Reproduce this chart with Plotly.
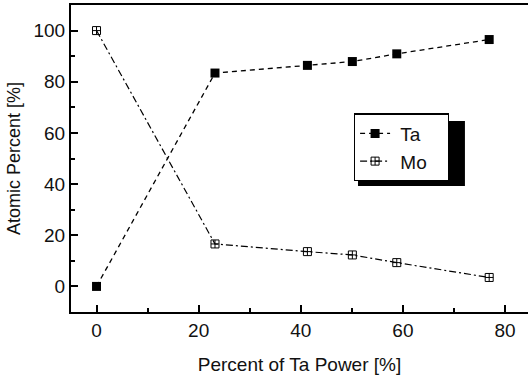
import plotly.graph_objects as go

ta_power = [0, 23.2, 41.3, 50.1, 58.8, 76.9]
ta_atomic = [0, 83.4, 86.4, 87.9, 90.9, 96.5]
mo_atomic = [100, 16.6, 13.6, 12.3, 9.3, 3.5]
series_names = ["Ta", "Mo"]

font = "Liberation Sans, Arial, sans-serif"
pad = "\u00a0"

fig = go.Figure()
fig.add_trace(go.Scatter(
    x=ta_power, y=ta_atomic, name=pad + series_names[0] + pad * 3, mode="lines+markers",
    line=dict(color="black", width=1.3, dash="5px,4px"),
    marker=dict(symbol="square", size=9, color="black"),
))
fig.add_trace(go.Scatter(
    x=ta_power, y=mo_atomic, name=pad + series_names[1] + pad * 3, mode="lines+markers",
    line=dict(color="black", width=1.2, dash="7px,3px,2px,3px"),
    marker=dict(symbol="square-cross-open", size=8,
                color="black", line=dict(width=1)),
))

axis_common = dict(
    showgrid=False, zeroline=False, showline=True, linecolor="black", linewidth=2,
    ticks="inside", ticklen=7, tickwidth=1.5, tickcolor="black",
    tickfont=dict(family=font, size=19, color="#111"),
    minor=dict(ticks="inside", ticklen=4, tickwidth=1.5, tickcolor="black"),
)

fig.update_layout(
    width=528, height=378,
    margin=dict(l=71, r=0, t=5, b=66),
    plot_bgcolor="white", paper_bgcolor="white",
    font=dict(family=font, color="#111"),
    xaxis=dict(range=[-5, 84.5], tickvals=[0, 20, 40, 60, 80], mirror=True,
               minor_dtick=10, minor_tick0=0,
               title=dict(text="Percent of Ta Power [%]", font=dict(family=font, size=19), standoff=18),
               **axis_common),
    yaxis=dict(range=[-10, 110], tickvals=[0, 20, 40, 60, 80, 100], mirror=False,
               minor_dtick=10, minor_tick0=0,
               title=dict(text="Atomic Percent [%]", font=dict(family=font, size=18), standoff=8),
               **axis_common),
    legend=dict(x=0.619, y=0.647, xanchor="left", yanchor="top",
                bgcolor="white", bordercolor="black", borderwidth=1.2,
                font=dict(family=font, size=19, color="#111"),
                tracegroupgap=0),
    shapes=[dict(type="rect", xref="paper", yref="paper",
                 x0=0.628, x1=0.862, y0=0.4104, y1=0.622,
                 fillcolor="black", line=dict(width=0), layer="above")],
)

fig.write_html("out.html")
